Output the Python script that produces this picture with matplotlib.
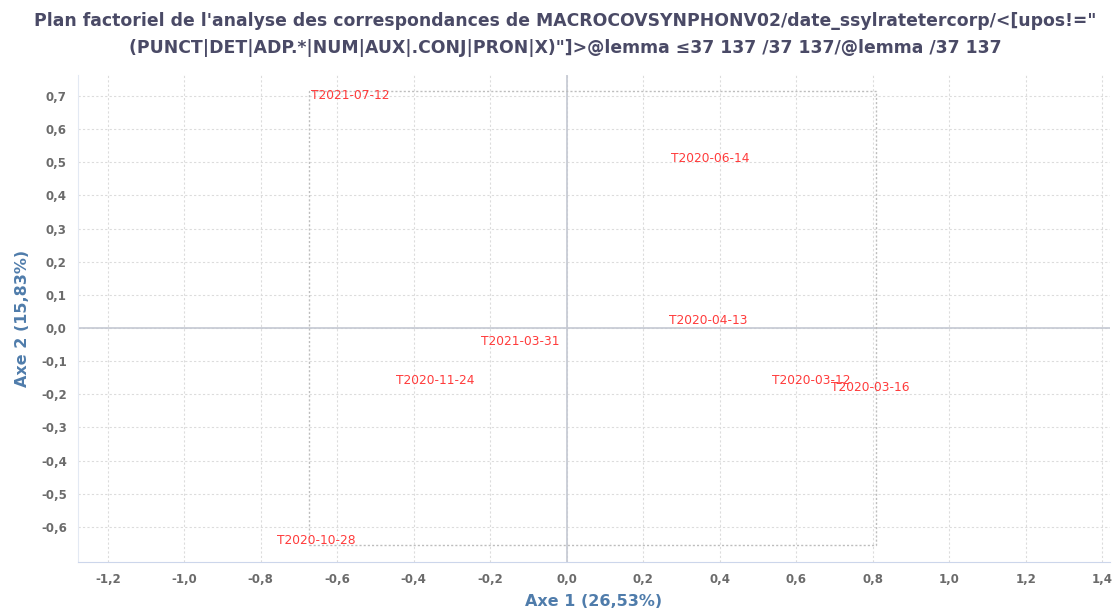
import matplotlib.pyplot as plt
from matplotlib.ticker import FuncFormatter, FixedLocator
from matplotlib.patches import Rectangle

# données (plan factoriel, axes 1 et 2)
labels = ["T2021-07-12", "T2020-06-14", "T2020-04-13", "T2021-03-31",
          "T2020-11-24", "T2020-03-12", "T2020-03-16", "T2020-10-28"]
axe1 = [-0.565, 0.374, 0.369, -0.123, -0.343, 0.638, 0.792, -0.656]
axe2 = [0.700, 0.510, 0.023, -0.042, -0.157, -0.157, -0.181, -0.640]

xticks = [-1.2, -1.0, -0.8, -0.6, -0.4, -0.2, 0.0, 0.2, 0.4, 0.6, 0.8, 1.0, 1.2, 1.4]
yticks = [-0.6, -0.5, -0.4, -0.3, -0.2, -0.1, 0.0, 0.1, 0.2, 0.3, 0.4, 0.5, 0.6, 0.7]

title = ("Plan factoriel de l'analyse des correspondances de MACROCOVSYNPHONV02/date_ssylratetercorp/<[upos!=\"\n"
         "(PUNCT|DET|ADP.*|NUM|AUX|.CONJ|PRON|X)\"]>@lemma \u226437 137 /37 137/@lemma /37 137")
xlabel = "Axe 1 (26,53%)"
ylabel = "Axe 2 (15,83%)"


def virgule(v, pos):
    return f"{v:.1f}".replace(".", ",")


fig = plt.figure(figsize=(11.17, 6.10), dpi=100)
ax = fig.add_axes([0.0698, 0.0787, 0.9239, 0.7983])

ax.set_xlim(-1.278, 1.42)
ax.set_ylim(-0.706, 0.763)
ax.xaxis.set_major_locator(FixedLocator(xticks))
ax.yaxis.set_major_locator(FixedLocator(yticks))
ax.xaxis.set_major_formatter(FuncFormatter(virgule))
ax.yaxis.set_major_formatter(FuncFormatter(virgule))

ax.grid(True, color="#dcdcdc", linestyle=(0, (2, 2)), linewidth=0.8)
ax.set_axisbelow(True)
ax.axhline(0, color="#c4c8d2", linewidth=1.2, zorder=1)
ax.axvline(0, color="#c4c8d2", linewidth=1.2, zorder=1)

for s in ["top", "right"]:
    ax.spines[s].set_visible(False)
ax.spines["left"].set_color("#e3e9f3")
ax.spines["bottom"].set_color("#ccd6eb")

ax.tick_params(axis="both", length=0, colors="#6b6b6b", labelsize=8.5, pad=8)
for t in ax.get_xticklabels() + ax.get_yticklabels():
    t.set_fontweight("bold")

# cadre pointillé autour des points
px, py = 0.017, 0.015
x0, x1 = min(axe1) - px, max(axe1) + px
y0, y1 = min(axe2) - py, max(axe2) + py
ax.add_patch(Rectangle((x0, y0), x1 - x0, y1 - y0, fill=False,
                       edgecolor="#bdbdbd", linestyle=(0, (1.5, 1.5)), linewidth=1, zorder=2))

for lab, x, y in zip(labels, axe1, axe2):
    ax.text(x, y, lab, color="#ff3b3b", fontsize=8.8, ha="center", va="center", zorder=3)

ax.set_xlabel(xlabel, color="#4f7cab", fontsize=11.5, fontweight="bold", labelpad=6)
ax.set_ylabel(ylabel, color="#4f7cab", fontsize=11.5, fontweight="bold", labelpad=8)

fig.text(0.506, 0.98, title, ha="center", va="top", color="#4a4a66",
         fontsize=12.4, fontweight="bold", linespacing=1.6)

fig.savefig("out.png", dpi=100)
